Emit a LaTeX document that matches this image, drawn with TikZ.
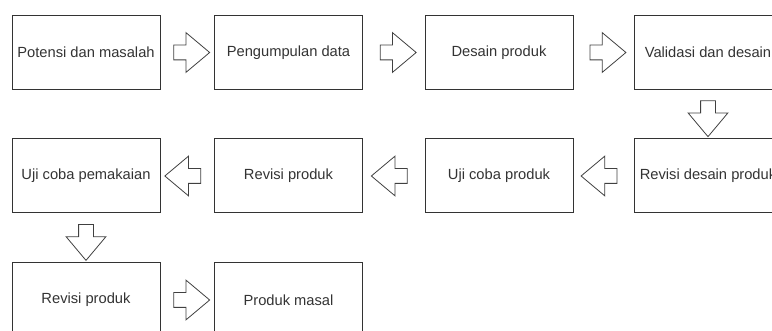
\documentclass[tikz,border=0pt]{standalone}
\usepackage{fontspec}
\setmainfont{Liberation Sans}
\usetikzlibrary{shapes.arrows}
\begin{document}
\begin{tikzpicture}[x=1pt,y=-1pt,
    box/.style={draw=black!80,line width=1pt,minimum width=148pt,minimum height=74pt,inner sep=0pt,
        text=black!80,font=\fontsize{14.7}{17}\selectfont},
    flow/.style={draw=black!75,line width=0.8pt,single arrow,single arrow tip angle=80,
        single arrow head extend=12.5pt,minimum height=36pt,inner xsep=0pt,inner ysep=7pt,
        sloped,allow upside down}]
    \clip (0,0) rectangle (772,331);

    % baris pertama
    \node[box] (potensi) at (86,52.5) {Potensi dan masalah};
    \node[box] (data) at (288.5,52.5) {Pengumpulan data};
    \node[box] (desain) at (499,52.5) {Desain produk};
    \node[box] (validasi) at (708,52.5) {Validasi dan desain};

    % baris kedua
    \node[box] (revdesain) at (708,176) {Revisi desain produk};
    \node[box] (ujicoba) at (499,176) {Uji coba produk};
    \node[box] (revisi) at (288.5,176) {Revisi produk};
    \node[box] (pemakaian) at (86,176) {Uji coba pemakaian};

    % baris ketiga
    \node[box] (revisi2) at (86,300) {Revisi produk};
    \node[box] (masal) at (288.5,300) {Produk masal};

    \path (potensi) -- node[flow] {} (data);
    \path (data) -- node[flow] {} (desain);
    \path (desain) -- node[flow] {} (validasi);
    \path (validasi) -- node[flow] {} (revdesain);
    \path (revdesain) -- node[flow] {} (ujicoba);
    \path (ujicoba) -- node[flow] {} (revisi);
    \path (revisi) -- node[flow] {} (pemakaian);
    \path (pemakaian) -- node[flow] {} (revisi2);
    \path (revisi2) -- node[flow] {} (masal);
\end{tikzpicture}
\end{document}
